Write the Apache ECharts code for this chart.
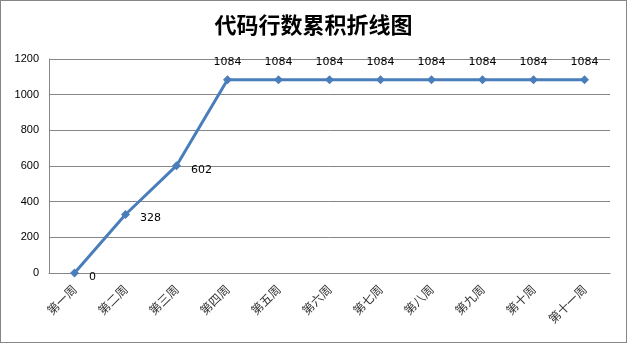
<!DOCTYPE html>
<html><head><meta charset="utf-8">
<script src="https://cdn.jsdelivr.net/npm/echarts@6/dist/echarts.min.js"></script>
<style>html,body{margin:0;padding:0;background:#fff}#c{width:627px;height:343px;box-sizing:border-box;border:1px solid #868686}</style>
</head><body><div id="c"></div>
<script>
const categories = ['第一周','第二周','第三周','第四周','第五周','第六周','第七周','第八周','第九周','第十周','第十一周'];
const lines = [0,328,602,1084,1084,1084,1084,1084,1084,1084,1084];
const chart = echarts.init(document.getElementById('c'));
chart.setOption({
  animation:false,
  title:{text:'代码行数累积折线图',left:'center',top:8,textStyle:{fontFamily:'Noto Sans CJK SC',fontSize:22,fontWeight:'bold',color:'#000'}},
  grid:{left:48,right:16,top:58,bottom:69},
  xAxis:{type:'category',data:categories,boundaryGap:true,
    axisLine:{lineStyle:{color:'#868686'}},axisTick:{show:false},
    axisLabel:{rotate:45,interval:0,fontFamily:'Noto Sans CJK SC',fontSize:12,color:'#333',margin:14}},
  yAxis:{type:'value',min:0,max:1200,interval:200,
    axisLine:{show:true,lineStyle:{color:'#868686'}},axisTick:{show:false},
    splitLine:{lineStyle:{color:'#868686'}},
    axisLabel:{fontFamily:'Liberation Sans',fontSize:11,color:'#000',margin:10,formatter:v=>String(v)}},
  series:[{type:'line',symbol:'diamond',symbolSize:9,
    lineStyle:{color:'#4A7EBB',width:3},itemStyle:{color:'#4A7EBB'},
    label:{show:true,fontFamily:'DejaVu Sans',fontSize:11,color:'#000'},
    data:lines.map((v,i)=>({value:v,label:i<3?{position:'right',distance:10,offset:[0,4]}:{position:'top',distance:8}}))}]
});
</script></body></html>
